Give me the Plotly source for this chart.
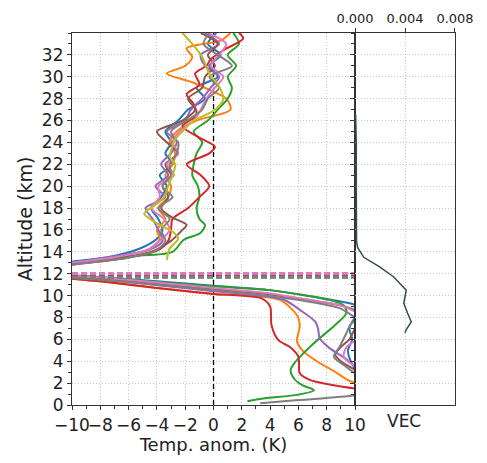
import plotly.graph_objects as go

# ---------------- data ----------------
colors = ["#1f77b4", "#ff7f0e", "#2ca02c", "#d62728", "#9467bd",
          "#8c564b", "#e377c2", "#7f7f7f", "#bcbd22"]

# upper (stratospheric) segments: altitude (km) and temperature anomaly (K)
blue_up_alt = [12.6, 13.1, 13.55, 14.3, 15.2, 16, 17, 18, 19, 20, 21, 22, 23, 24, 25, 26, 27, 28, 29, 30, 31, 32, 33, 34]
blue_up_T = [-13, -10, -7.3, -5.2, -4.0, -3.6, -3.9, -4.4, -3.7, -3.3, -3.8, -2.9, -3.4, -3.0, -3.4, -2.5, -1.8, -0.6, -1.2, 0.3, -0.3, 0.5, -0.4, 0.2]
orange_up_alt = [12.4, 12.9, 13.5, 14.3, 15.2, 16, 17, 18, 19, 20, 21, 22, 23, 24, 25, 26, 27, 28, 28.8, 29.5, 30.3, 31, 31.8, 32.6, 33.3, 34]
orange_up_T = [-13, -10, -6.8, -4.5, -3.8, -4.0, -3.4, -3.9, -3.2, -3.0, -3.4, -2.9, -2.7, -3.1, -2.6, -1.2, 1.2, 0.9, -0.3, -1.5, -3.3, -2.0, -1.5, -1.9, 0.5, 1.2]
green_up_alt = [12.5, 13.0, 13.6, 14.0, 15.1, 15.7, 16.45, 17, 18, 19, 20, 21, 22, 23, 24, 25, 26, 27, 28, 29, 30, 31, 32, 33, 34]
green_up_T = [-13, -9.5, -6, -2.9, -2.1, -0.95, -0.6, -1.0, -1.2, -1.0, -1.1, -1.5, -1.4, -1.2, -0.8, -1.4, -0.4, 0.3, 1.0, 1.3, 1.0, 1.6, 1.0, 1.8, 1.4]
red_up_alt = [12.4, 12.9, 13.4, 14.1, 15, 16, 17, 18, 19, 20, 21, 22, 23, 23.6, 24.5, 25.5, 26.5, 27.5, 28.4, 29.3, 30.3, 31, 31.6, 32.5, 33.5, 34]
red_up_T = [-13, -9.5, -6.3, -4.0, -3.2, -3.0, -2.9, -1.8, -1.0, -0.3, -0.9, -1.9, -0.3, 0.1, -1.1, -2.2, -1.2, -1.4, -1.9, -1.0, -1.3, -0.5, -0.2, 0.8, 2.1, 1.8]
purple_up_alt = [12.5, 13.0, 13.5, 14.2, 15, 16, 17, 18, 19, 20, 21, 22, 23, 24, 25, 26, 27, 28, 29, 30, 31, 32, 33, 34]
purple_up_T = [-13, -10, -7.5, -4.5, -3.6, -3.9, -4.3, -4.8, -3.4, -4.1, -3.2, -3.7, -3.0, -2.6, -3.0, -2.0, -1.6, -0.8, -0.2, 0.4, -0.6, -0.9, 0.4, -0.6]
brown_up_alt = [12.4, 12.9, 13.4, 14.1, 15, 16, 16.45, 17.2, 18, 19, 20, 21, 22, 23, 24, 25, 26, 27, 28, 29, 30, 31, 32, 33, 34]
brown_up_T = [-13, -9.8, -6.5, -4.2, -3.0, -2.2, -1.9, -3.0, -3.7, -3.2, -3.6, -3.0, -3.4, -2.5, -3.3, -4.0, -2.2, -1.3, -1.8, -0.8, -0.6, 0.1, -0.4, 0.3, -0.9]
pink_up_alt = [12.6, 13.0, 13.5, 14.2, 15, 16, 17, 18, 19, 20, 21, 22, 23, 24, 25, 26, 27, 28, 29, 30, 31, 32, 33, 34]
pink_up_T = [-13, -10, -7, -4.6, -3.8, -3.1, -3.5, -4.4, -3.8, -3.9, -2.8, -3.3, -2.5, -2.9, -2.4, -1.4, -0.9, -0.5, 0.1, 0.7, -0.2, 0.4, 0.9, -0.4]
gray_up_alt = [12.4, 12.9, 13.4, 14.1, 15, 16, 17, 18, 19, 20, 21, 22, 23, 24, 25, 26, 27, 28, 29, 30, 31, 32, 33, 34]
gray_up_T = [-13, -9.5, -6.3, -4.1, -3.4, -3.7, -3.1, -3.9, -2.9, -3.6, -3.0, -3.1, -2.6, -2.5, -3.3, -1.9, -0.8, -0.4, 0.4, -0.3, 1.3, 0.3, -0.7, -0.3]
olive_up_alt = [13.25, 14.3, 15.2, 15.85, 16.45, 17.5, 18.2, 19, 20, 21, 22, 22.7, 23.6, 24.3, 25, 26, 26.6, 27.2, 28, 29.1, 30.3, 31.8, 33, 34]
olive_up_T = [-3.3, -3.1, -2.5, -2.9, -3.8, -4.9, -4.2, -3.5, -3.2, -2.9, -2.7, -3.1, -2.9, -2.7, -2.2, -1.4, -0.4, 0.3, 0.7, 0.4, -0.3, -0.8, -1.5, -2.2]

# lower (tropospheric) segments
blue_lo_alt = [0, 1, 2, 3, 4, 5, 6, 7, 8, 8.7, 9.2, 9.5, 9.8, 10.5, 10.9, 11.3, 11.7, 11.9, 12.1]
blue_lo_T = [13, 12, 11, 10.2, 9.7, 9.5, 9.8, 9.6, 10.0, 10.5, 9.9, 8.8, 7.5, 4.0, 0.0, -4.0, -8.0, -10.5, -13]
orange_lo_alt = [0.5, 1.3, 2.0, 2.35, 3.1, 4.0, 4.9, 5.8, 7.3, 8.2, 9.6, 10.0, 10.15, 10.7, 11.3, 11.6, 11.9]
orange_lo_T = [13, 11.5, 10, 9.4, 8.5, 7.3, 6.35, 5.9, 6.1, 5.9, 4.7, 2.5, 0.0, -4, -8, -10.5, -13]
green_lo_alt = [0.35, 0.6, 0.95, 1.35, 1.8, 2.4, 3.2, 3.8, 4.4, 5.6, 7.2, 8.2, 8.6, 9.2, 9.65, 10.5, 10.85, 11.25, 11.65, 11.85, 12.0]
green_lo_T = [2.4, 3.5, 6.0, 7.1, 6.3, 5.7, 5.45, 5.7, 6.1, 7.05, 8.5, 9.3, 9.4, 9.1, 8.0, 4.0, 0.0, -4, -8, -10.5, -13]
red_lo_alt = [0, 1.2, 1.5, 1.8, 2.3, 2.9, 4.4, 5.3, 5.9, 7.3, 9.0, 9.75, 10.0, 10.15, 10.7, 11.3, 11.6, 11.9]
red_lo_T = [13, 12, 10, 8.5, 6.8, 6.1, 6.0, 5.4, 4.6, 4.1, 4.0, 3.4, 2.0, 0.0, -4, -8, -10.5, -13]
purple_lo_alt = [1.5, 2.8, 3.5, 4.0, 4.6, 5.2, 6.1, 6.9, 7.6, 8.7, 9.6, 10.1, 10.4, 10.95, 11.5, 11.75, 12.0]
purple_lo_T = [13, 11, 10, 9.6, 8.9, 8.2, 7.5, 7.4, 7.2, 6.1, 5.0, 2.5, 0.0, -4, -8, -10.5, -13]
brown_lo_alt = [0, 1.5, 2.7, 3.2, 4.0, 4.6, 5.3, 6.0, 7.0, 7.8, 8.5, 9.1, 9.55, 10.1, 10.6, 11.1, 11.55, 11.75, 11.95]
brown_lo_T = [13, 12, 10.5, 10, 9.0, 8.6, 9.0, 9.6, 10.0, 10.5, 10.2, 9.0, 7, 4, 0, -4, -8, -10.5, -13]
pink_lo_alt = [0.5, 2, 3, 3.5, 4.4, 5.3, 5.9, 7, 8, 8.6, 9.1, 9.55, 10.2, 10.7, 11.2, 11.65, 11.85, 12.05]
pink_lo_T = [13, 11.5, 10.5, 10, 9.2, 9.4, 10, 10.8, 10.5, 9.9, 9.0, 7, 4, 0, -4, -8, -10.5, -13]
gray_lo_alt = [0.15, 0.45, 0.9, 1.5, 2.3, 2.9, 3.66, 4.4, 5.3, 6.6, 7.4, 7.9, 8.1, 8.85, 9.4, 9.95, 10.5, 11.0, 11.45, 11.65, 11.85]
gray_lo_T = [3.3, 6, 10, 12, 11.5, 10, 9.2, 8.5, 8.9, 9.4, 9.7, 10.2, 9.9, 8.9, 7, 4, 0, -4, -8, -10.5, -13]

# tropopause heights (km) per run, drawn dashed
tropo_alt = [11.95, 11.9, 11.7, 11.8, 12.0, 11.75, 12.02, 11.68]

# VEC profile
vec_alt = [26.5, 24, 20, 16, 15, 14.4, 13.5, 12.6, 11.7, 10.5, 9.9, 9.3, 8.4, 7.6, 6.9, 6.6]
vec_val = [0.00005, 0.0001, 0.0001, 0.0001, 0.00012, 0.0002, 0.0007, 0.0020, 0.0031, 0.0041, 0.0040, 0.0039, 0.0042, 0.0045, 0.0041, 0.0040]

x_ticks = [-10, -8, -6, -4, -2, 0, 2, 4, 6, 8, 10]
y_ticks = list(range(0, 33, 2))
vec_ticks = [0.0, 0.004, 0.008]
vec_ticktext = ["0.000", "0.004", "0.008"]

# ---------------- figure ----------------
FONT = "DejaVu Sans"
fig = go.Figure()

uppers = [(blue_up_alt, blue_up_T), (orange_up_alt, orange_up_T), (green_up_alt, green_up_T),
          (red_up_alt, red_up_T), (purple_up_alt, purple_up_T), (brown_up_alt, brown_up_T),
          (pink_up_alt, pink_up_T), (gray_up_alt, gray_up_T), (olive_up_alt, olive_up_T)]
lowers = [(blue_lo_alt, blue_lo_T), (orange_lo_alt, orange_lo_T), (green_lo_alt, green_lo_T),
          (red_lo_alt, red_lo_T), (purple_lo_alt, purple_lo_T), (brown_lo_alt, brown_lo_T),
          (pink_lo_alt, pink_lo_T), (gray_lo_alt, gray_lo_T), None]

# vertical dashed zero line
fig.add_trace(go.Scatter(x=[0, 0], y=[0, 34], mode="lines",
                         line=dict(color="black", width=1.3, dash="5px,3px"),
                         showlegend=False, xaxis="x", yaxis="y"))

for i, c in enumerate(colors):
    ua, ut = uppers[i]
    fig.add_trace(go.Scatter(x=ut, y=ua, mode="lines",
                             line=dict(color=c, width=2, shape="spline", smoothing=0.8),
                             showlegend=False, xaxis="x", yaxis="y"))
    if lowers[i] is not None:
        la, lt = lowers[i]
        fig.add_trace(go.Scatter(x=lt, y=la, mode="lines",
                                 line=dict(color=c, width=2, shape="spline", smoothing=0.8),
                                 showlegend=False, xaxis="x", yaxis="y"))

for i, ta in enumerate(tropo_alt):
    fig.add_trace(go.Scatter(x=[-10, 10], y=[ta, ta], mode="lines",
                             line=dict(color=colors[i], width=3, dash="6px,3px"),
                             showlegend=False, xaxis="x", yaxis="y"))

fig.add_trace(go.Scatter(x=vec_val, y=vec_alt, mode="lines",
                         line=dict(color="#2F4F4F", width=1.5),
                         showlegend=False, xaxis="x2", yaxis="y2"))

axis_common = dict(showline=True, linecolor="#333333", linewidth=1.2, mirror=True,
                   showgrid=True, gridcolor="#c8c8c8", griddash="1px,2px", gridwidth=1,
                   zeroline=False, ticks="outside", ticklen=4, tickcolor="#333333",
                   automargin=False)

fig.update_layout(
    width=487, height=463,
    margin=dict(l=72, r=32, t=33, b=58),
    paper_bgcolor="white", plot_bgcolor="white",
    font=dict(family=FONT, color="black"),
    xaxis=dict(domain=[0, 0.739], range=[-10, 10], tickvals=x_ticks, anchor="y",
               tickangle=0, tickfont=dict(size=17, family=FONT, color="#222222"),
               title=dict(text="Temp. anom. (K)", font=dict(size=18, family=FONT, color="#222222"), standoff=4),
               minor=dict(dtick=1, ticks="outside", ticklen=2.5, tickcolor="#333333", showgrid=False),
               **axis_common),
    yaxis=dict(domain=[0, 1], range=[0, 34], tickvals=y_ticks, anchor="x",
               tickfont=dict(size=17, family=FONT, color="#222222"),
               title=dict(text="Altitude (km)", font=dict(size=19, family=FONT, color="#222222"), standoff=4),
               minor=dict(dtick=1, tick0=0, ticks="outside", ticklen=2.5, tickcolor="#333333", showgrid=False),
               **axis_common),
    xaxis2=dict(domain=[0.739, 1], range=[0, 0.008], tickvals=vec_ticks, ticktext=vec_ticktext,
                side="top", anchor="y2", tickangle=0, tickfont=dict(size=13, family=FONT, color="#222222"),
                **axis_common),
    yaxis2=dict(domain=[0, 1], range=[0, 34], tickvals=y_ticks, anchor="x2", matches="y",
                showticklabels=False,
                minor=dict(dtick=1, tick0=0, ticks="outside", ticklen=2.5, tickcolor="#333333", showgrid=False),
                **axis_common),
    annotations=[dict(text="VEC", x=0.867, xref="paper", xanchor="center", y=-0.012, yref="paper",
                      yanchor="top", showarrow=False, font=dict(size=17, family=FONT, color="#222222"))],
)

fig.write_html("out.html")
